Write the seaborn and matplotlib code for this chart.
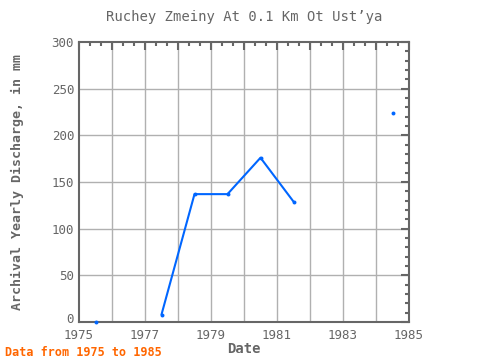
import matplotlib
matplotlib.use("Agg")
import matplotlib.pyplot as plt
import matplotlib.transforms as mtransforms
import seaborn as sns
import pandas as pd
from matplotlib.ticker import MultipleLocator

years = [1975.5, 1977.5, 1978.5, 1979.5, 1980.5, 1981.5, 1984.5]
values = [0, 8, 137, 137, 176, 129, 224]
segment = [0, 1, 1, 1, 1, 1, 2]
xticks = list(range(1975, 1986))
xlabels = [str(t) if (t - 1975) % 2 == 0 else "" for t in xticks]
yticks = [0, 50, 100, 150, 200, 250, 300]

df = pd.DataFrame({"year": years, "value": values, "seg": segment})

sns.set_style("white")
plt.rcParams['font.family'] = ['DejaVu Sans Mono']

gray = "#666666"
blue = "#0066ff"

fig = plt.figure(figsize=(4.8, 3.6), dpi=100)
ax = fig.add_axes([79/480, 38/360, 330/480, 280/360])

sns.lineplot(data=df, x="year", y="value", units="seg", estimator=None,
             color=blue, linewidth=1.5, ax=ax, clip_on=False)
sns.scatterplot(data=df, x="year", y="value", color=blue, s=8, linewidth=0,
                ax=ax, clip_on=False, zorder=5)

ax.set_xlim(1975, 1985)
ax.set_ylim(0, 300)
ax.set_xticks(xticks)
ax.set_xticklabels(xlabels)
ax.set_yticks(yticks)
ax.set_yticklabels([str(t) for t in yticks])
ax.xaxis.set_minor_locator(MultipleLocator(1/3))
ax.yaxis.set_minor_locator(MultipleLocator(10))

for xv in range(1976, 1985):
    ax.axvline(xv, color="#b0b0b0", linewidth=1, zorder=0)
for yv in yticks[1:-1]:
    ax.axhline(yv, color="#b0b0b0", linewidth=1, zorder=0)

for s in ax.spines.values():
    s.set_color(gray)
    s.set_linewidth(1.5)

ax.tick_params(which="both", direction="in", top=True, right=True, color=gray,
               labelcolor=gray, labelsize=9, width=1.5)
ax.tick_params(which="major", length=6)
ax.tick_params(which="minor", length=3)
ax.tick_params(axis="x", which="major", pad=5)

# nudge the "0" label up a little, as in the reference
lbl0 = ax.get_yticklabels()[0]
lbl0.set_transform(lbl0.get_transform() +
                   mtransforms.ScaledTranslation(0, 4/100, fig.dpi_scale_trans))

ax.set_xlabel("Date", color=gray, fontsize=10, fontweight="bold", labelpad=0)
ax.set_ylabel("Archival Yearly Discharge, in mm", color=gray, fontsize=9.5,
              fontweight="bold", labelpad=20)
ax.set_title("Ruchey Zmeiny At 0.1 Km Ot Ust\u2019ya", color=gray, fontsize=10,
             pad=15)

fig.text(5/480, 1 - 352/360, "Data from 1975 to 1985", color="#ff6600",
         fontsize=8.5, fontweight="bold", va="center", ha="left")

fig.savefig("out.png", dpi=100)
